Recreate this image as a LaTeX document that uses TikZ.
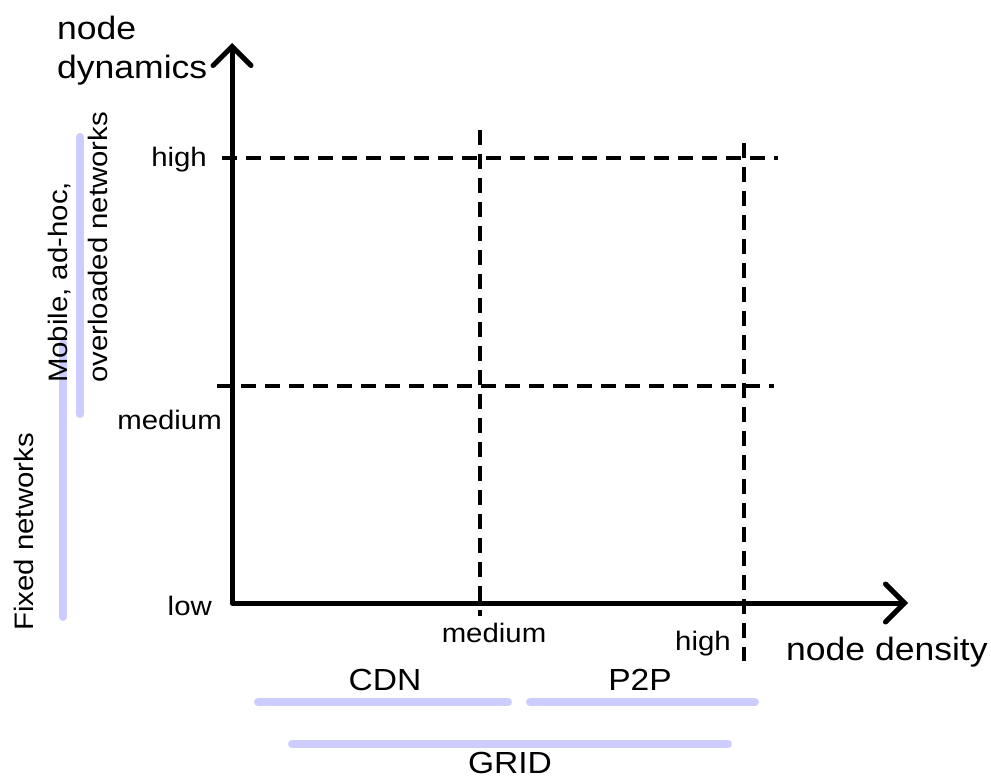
\documentclass[tikz,border=0pt]{standalone}
\usepackage{fontspec}
\setmainfont{Liberation Sans}[FakeStretch=1.1]
\usetikzlibrary{arrows.meta}
\definecolor{barblue}{RGB}{204,204,255}
\tikzset{
  axisline/.style={line width=5pt, line cap=round, line join=round,
    {Straight Barb[length=19pt,width=38pt,line cap=round]}-{Straight Barb[length=19pt,width=38pt,line cap=round]}},
  gridline/.style={line width=3.5pt, dash pattern=on 15pt off 9pt},
  bar/.style={line width=8pt, line cap=round, draw=barblue},
  titletext/.style={inner sep=0pt, font=\fontsize{32.3}{39}\selectfont},
  ticktext/.style={inner sep=0pt, font=\fontsize{26.7}{30}\selectfont},
  grouptext/.style={inner sep=0pt, font=\fontsize{30.5}{34}\selectfont},
  sidetext/.style={inner sep=0pt, font=\fontsize{26.7}{40}\selectfont, rotate=90},
}
\begin{document}
\begin{tikzpicture}[x=1pt,y=-1pt]
\useasboundingbox (0,0) rectangle (991,779);
% axes
\coordinate (O) at (232,603);
\coordinate (ytip) at (232,43);
\coordinate (xtip) at (908,603);
\draw[axisline] (ytip) -- (O) -- (xtip);
% dashed grid
\coordinate (hh1) at (222,158); \coordinate (hh2) at (778,158);
\coordinate (hm1) at (217,386); \coordinate (hm2) at (774,386);
\coordinate (vm1) at (480,130); \coordinate (vm2) at (480,616);
\coordinate (vh1) at (744,143); \coordinate (vh2) at (744,661);
\draw[gridline] (hh1) -- (hh2);
\draw[gridline] (hm1) -- (hm2);
\draw[gridline] (vm1) -- (vm2);
\draw[gridline] (vh1) -- (vh2);
% axis titles
\node[titletext, align=left, anchor=north west] (ytitle) at (57,16) {node\\dynamics};
\node[titletext, anchor=base west] (xtitle) at (786,660) {node density};
% tick labels
\node[ticktext, anchor=base east] (yhigh) at (207,166) {high};
\node[ticktext, anchor=base east] (ymed) at (222,429) {medium};
\node[ticktext, anchor=base east] (ylow) at (212,615) {low};
\node[ticktext, anchor=base] (xmed) at (494,642) {medium};
\node[ticktext, anchor=base] (xhigh) at (703,650) {high};
% group bars
\coordinate (cdn1) at (258,702); \coordinate (cdn2) at (508,702);
\coordinate (p2p1) at (530,702); \coordinate (p2p2) at (755,702);
\coordinate (grid1) at (292,744); \coordinate (grid2) at (728,744);
\draw[bar] (cdn1) -- (cdn2);
\draw[bar] (p2p1) -- (p2p2);
\draw[bar] (grid1) -- (grid2);
\node[grouptext, anchor=base] (cdn) at (385,690) {CDN};
\node[grouptext, anchor=base] (p2p) at (640,690) {P2P};
\node[grouptext, anchor=base] (grid) at (510,773) {GRID};
% side bars
\coordinate (fix1) at (63,343); \coordinate (fix2) at (63,617);
\coordinate (mob1) at (80,137); \coordinate (mob2) at (80,414);
\draw[bar] (fix1) -- (fix2);
\draw[bar] (mob1) -- (mob2);
\node[sidetext, anchor=base] (fixed) at (34,532) {Fixed networks};
\node[sidetext, align=left, anchor=south west] (mobile) at (108,383) {Mobile, ad-hoc,\\overloaded networks};
\end{tikzpicture}
\end{document}
